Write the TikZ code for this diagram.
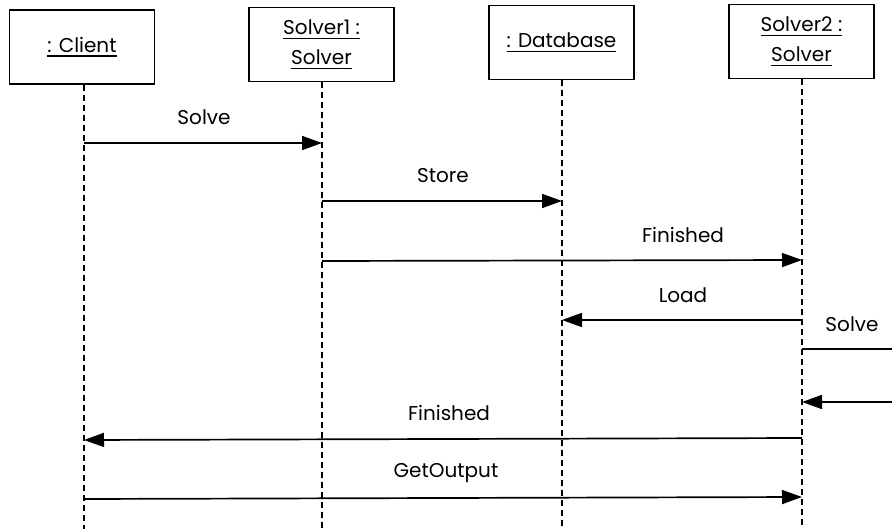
\documentclass[tikz,border=0pt]{standalone}
\usepackage{fontspec}
\setmainfont{Poppins}
\usetikzlibrary{arrows.meta}
% object names: text with a heavier rule set just below the baseline
\newcommand\objname[1]{{\setbox0\hbox{#1}\rlap{\rule[-4.5pt]{\wd0}{1.6pt}}\box0}}
\begin{document}
\begin{tikzpicture}[x=1pt,y=-1pt,
  obj/.style={draw, line width=1.5pt, minimum width=145pt, minimum height=74pt,
    align=center, inner sep=0pt, font=\fontsize{20}{30}\selectfont},
  lifeline/.style={dash pattern=on 6pt off 4pt, line width=1.3pt},
  msg/.style={line width=1.7pt, -{Triangle[length=20pt,width=14pt]}},
  plainmsg/.style={line width=1.7pt},
  lbl/.style={font=\fontsize{20}{24}\selectfont}]
\useasboundingbox (0,0) rectangle (892,529);

% objects
\node[obj] (client) at (82,47)   {\objname{: Client}};
\node[obj] (solver1) at (321.5,44.5) {\objname{Solver1 :}\\\objname{Solver}};
\node[obj] (db) at (561.5,42.5)  {\objname{: Database}};
\node[obj] (solver2) at (801.5,41.5) {\objname{Solver2 :}\\\objname{Solver}};

% lifeline ends
\coordinate (clientEnd)  at (84,529);
\coordinate (solver1End) at (322,529);
\coordinate (dbEnd)      at (562,529);
\coordinate (solver2End) at (802,529);

\draw[lifeline] (client.south -| clientEnd) -- (clientEnd);
\draw[lifeline] (solver1.south -| solver1End) -- (solver1End);
\draw[lifeline] (db.south -| dbEnd) -- (dbEnd);
\draw[lifeline] (solver2.south -| solver2End) -- (solver2End);

% message anchor points on the lifelines
\coordinate (m1a) at (84,143);  \coordinate (m1b) at (322,143);
\coordinate (m2a) at (322,201); \coordinate (m2b) at (562,201);
\coordinate (m3a) at (322,261); \coordinate (m3b) at (802,260);
\coordinate (m4a) at (802,320); \coordinate (m4b) at (562,320);
\coordinate (m5a) at (802,349); \coordinate (m5b) at (892,349);
\coordinate (m6a) at (892,402); \coordinate (m6b) at (802,402);
\coordinate (m7a) at (802,438); \coordinate (m7b) at (84,440);
\coordinate (m8a) at (84,499);  \coordinate (m8b) at (802,497);

\draw[msg] (m1a) -- (m1b);
\draw[msg] (m2a) -- (m2b);
\draw[msg] (m3a) -- (m3b);
\draw[msg] (m4a) -- (m4b);
\draw[plainmsg] (m5a) -- (m5b);
\draw[msg] (m6a) -- (m6b);
\draw[msg] (m7a) -- (m7b);
\draw[msg] (m8a) -- (m8b);

% message labels
\node[lbl] (l1) at (204,117) {Solve};
\node[lbl] (l2) at (443,176) {Store};
\node[lbl] (l3) at (683,235) {Finished};
\node[lbl] (l4) at (683,295) {Load};
\node[lbl] (l5) at (852,324) {Solve};
\node[lbl] (l7) at (449,413) {Finished};
\node[lbl] (l8) at (446,473) {GetOutput};
\end{tikzpicture}
\end{document}
